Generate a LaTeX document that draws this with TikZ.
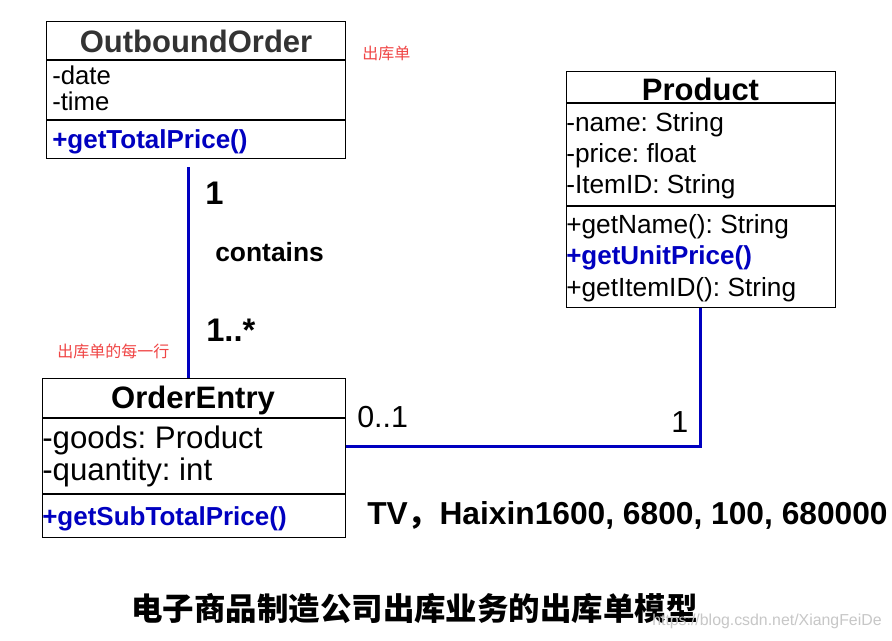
\documentclass[tikz,border=0pt]{standalone}
\usepackage{fontspec}
\setmainfont{Liberation Sans}
\newfontfamily\cjk{Noto Sans CJK SC}
\definecolor{umlblue}{HTML}{0000C0}
\definecolor{notered}{HTML}{F04545}
\definecolor{titlegray}{HTML}{333333}
\frenchspacing
\begin{document}
\begin{tikzpicture}[x=0.75pt,y=-0.75pt,
  umlbox/.style={draw=black, line width=1pt, inner sep=0pt, anchor=north west},
  sepline/.style={draw=black, line width=1pt},
  conn/.style={draw=umlblue, line width=2.25pt},
  txt/.style={anchor=base west, inner sep=0pt},
  ctxt/.style={anchor=base, inner sep=0pt},
  ttl/.style={ctxt, font=\bfseries\fontsize{23.25pt}{26pt}\selectfont},
  mth/.style={txt, text=umlblue, font=\bfseries\fontsize{19.5pt}{22pt}\selectfont},
  note/.style={txt, text=notered, font=\cjk\fontsize{12pt}{14pt}\selectfont},
  mult/.style={txt, font=\bfseries\fontsize{24.5pt}{27pt}\selectfont}
]
\useasboundingbox (0,0) rectangle (892,640);
\fill[white] (0,0) rectangle (892,640);

% OutboundOrder
\node[umlbox, minimum width=224.25pt, minimum height=102.75pt] (ob) at (46,21) {};
\draw[sepline] (46,60) -- (345,60);
\draw[sepline] (46,120) -- (345,120);
\node[ttl, text=titlegray] (obt) at (196,52) {OutboundOrder};
\node[txt, font=\fontsize{19.3pt}{22pt}\selectfont] (oba1) at (52,84) {-date};
\node[txt, font=\fontsize{19.3pt}{22pt}\selectfont] (oba2) at (52,110) {-time};
\node[mth] (obm1) at (52,148) {+getTotalPrice()};
\node[note] (n1) at (362,59) {出库单};

% Product
\node[umlbox, minimum width=201.75pt, minimum height=177pt] (pr) at (566,71) {};
\draw[sepline] (566,103) -- (835,103);
\draw[sepline] (566,206) -- (835,206);
\node[ttl] (prt) at (700.5,100) {Product};
\begin{scope}[every node/.append style={txt, font=\fontsize{19.7pt}{22pt}\selectfont}]
\node (pra1) at (566,131) {-name: String};
\node (pra2) at (566,162) {-price: float};
\node (pra3) at (566,193) {-ItemID: String};
\node (prm1) at (566,233) {+getName(): String};
\node (prm3) at (566,296) {+getItemID(): String};
\end{scope}
\node[mth] (prm2) at (566,264) {+getUnitPrice()};

% OrderEntry
\node[umlbox, minimum width=227.25pt, minimum height=119.25pt] (oe) at (42,378) {};
\draw[sepline] (42,418) -- (345,418);
\draw[sepline] (42,494) -- (345,494);
\node[ttl] (oet) at (193,408) {OrderEntry};
\node[txt, font=\fontsize{23.4pt}{26pt}\selectfont] (oea1) at (42,448) {-goods: Product};
\node[txt, font=\fontsize{23.4pt}{26pt}\selectfont] (oea2) at (42,480) {-quantity: int};
\node[mth] (oem1) at (42,525) {+getSubTotalPrice()};
\node[note] (n2) at (57,357) {出库单的每一行};

% connectors
\coordinate (c1) at (188,167);
\draw[conn] (c1) -- (c1 |- oe.north);
\coordinate (elbow) at (700,446);
\draw[conn] (oe.east |- elbow) -- (elbow) -- (elbow |- pr.south);

% labels
\node[mult] (m1) at (205,204) {1};
\node[txt, font=\bfseries\fontsize{19.8pt}{22pt}\selectfont] (lc) at (215,261) {contains};
\node[mult] (m2) at (206,341) {1..*};
\node[txt, font=\fontsize{22.8pt}{26pt}\selectfont] (m3) at (357,427) {0..1};
\node[txt, font=\fontsize{22.8pt}{26pt}\selectfont] (m4) at (671,432) {1};
\node[txt, font=\bfseries\fontsize{23.8pt}{26pt}\selectfont] (ex) at (367,524) {TV{\cjk ，}Haixin1600, 6800, 100, 680000};

\node[txt, font=\cjk\bfseries\fontsize{23.6pt}{26pt}\selectfont] (cap) at (131,620) {电子商品制造公司出库业务的出库单模型};
\node[txt, text=black!22, font=\fontsize{11.9pt}{14pt}\selectfont] (wm) at (652,625) {https://blog.csdn.net/XiangFeiDe};
\end{tikzpicture}
\end{document}
